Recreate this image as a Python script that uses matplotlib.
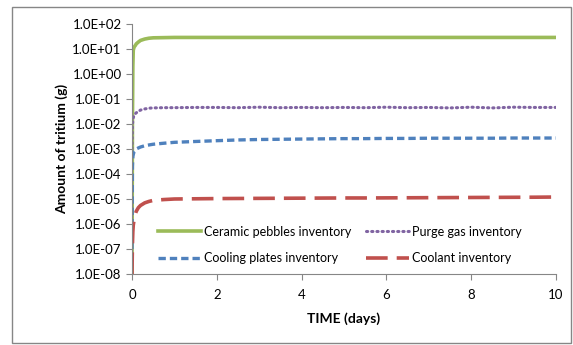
import matplotlib
matplotlib.use("Agg")
import matplotlib.pyplot as plt
from matplotlib.patches import Rectangle
from matplotlib.ticker import FixedLocator, FixedFormatter

# time (days)
time = [0, 0.01, 0.02, 0.03, 0.05, 0.08, 0.1, 0.15, 0.2, 0.3, 0.4, 0.5, 0.75,
        1, 1.5, 2, 2.5, 3, 3.5, 4, 4.5, 5, 5.5, 6, 6.5, 7, 7.5, 8, 8.5, 9, 9.5, 10]

ceramic = [1e-8, 0.01, 2.0, 9.0, 12.0, 14.0, 16.0, 19.0, 22.0, 25.0, 27.0, 28.0, 28.5,
           29, 29, 29, 29, 29, 29, 29, 29, 29, 29, 29, 29, 29, 29, 29, 29, 29, 29, 29]
purge = [1e-3, 0.008, 0.015, 0.018, 0.022, 0.026, 0.028, 0.032, 0.036, 0.040, 0.043, 0.044, 0.045,
         0.045, 0.046, 0.046, 0.045, 0.047, 0.045, 0.046, 0.045, 0.046, 0.045, 0.047, 0.045, 0.046,
         0.044, 0.047, 0.044, 0.047, 0.046, 0.046]
cooling = [1e-7, 2e-4, 5e-4, 6e-4, 8e-4, 9e-4, 1.0e-3, 1.1e-3, 1.2e-3, 1.35e-3, 1.45e-3, 1.55e-3, 1.7e-3,
           1.85e-3, 2.0e-3, 2.15e-3, 2.3e-3, 2.4e-3, 2.45e-3, 2.5e-3, 2.55e-3, 2.6e-3, 2.6e-3, 2.65e-3,
           2.65e-3, 2.7e-3, 2.7e-3, 2.7e-3, 2.7e-3, 2.75e-3, 2.75e-3, 2.75e-3]
coolant = [1e-8, 1.5e-7, 5e-7, 9e-7, 1.5e-6, 2.5e-6, 3.2e-6, 4.5e-6, 5.5e-6, 7e-6, 8e-6, 8.8e-6, 9.5e-6,
           1.0e-5, 1.02e-5, 1.04e-5, 1.05e-5, 1.06e-5, 1.07e-5, 1.08e-5, 1.09e-5, 1.1e-5, 1.1e-5, 1.11e-5,
           1.12e-5, 1.13e-5, 1.14e-5, 1.15e-5, 1.16e-5, 1.17e-5, 1.18e-5, 1.2e-5]

ytick_vals = [1e-8, 1e-7, 1e-6, 1e-5, 1e-4, 1e-3, 1e-2, 1e-1, 1e0, 1e1, 1e2]
ytick_labels = ["1.0E-08", "1.0E-07", "1.0E-06", "1.0E-05", "1.0E-04", "1.0E-03",
                "1.0E-02", "1.0E-01", "1.0E+00", "1.0E+01", "1.0E+02"]

plt.rcParams['font.family'] = ['Lato', 'DejaVu Sans']

fig = plt.figure(figsize=(5.73, 3.45), dpi=100)
fig.patches.append(Rectangle((12 / 573, 1 - 343 / 345), 559 / 573, 336 / 345,
                             transform=fig.transFigure, fill=False,
                             edgecolor='#868686', linewidth=1.0))
ax = fig.add_axes([132 / 573, 1 - 274 / 345, 424 / 573, 250 / 345])

l1, = ax.plot(time, ceramic, color='#9BBB59', lw=2.6, label='Ceramic pebbles inventory')
l2, = ax.plot(time, purge, color='#8064A2', lw=2.2, ls=(0, (0.4, 1.3)),
              dash_capstyle='round', label='Purge gas inventory')
l3, = ax.plot(time, cooling, color='#4F81BD', lw=2.4, ls=(0, (2.2, 1.2)),
              label='Cooling plates inventory')
l4, = ax.plot(time, coolant, color='#C0504D', lw=2.6, ls=(0, (6, 2.5)),
              label='Coolant inventory')

ax.set_yscale('log')
ax.set_ylim(1e-8, 1e2)
ax.set_xlim(0, 10)
ax.yaxis.set_major_locator(FixedLocator(ytick_vals))
ax.yaxis.set_major_formatter(FixedFormatter(ytick_labels))
ax.yaxis.set_minor_locator(FixedLocator([]))
ax.set_xticks([0, 2, 4, 6, 8, 10])

for s in ['top', 'right']:
    ax.spines[s].set_visible(False)
for s in ['left', 'bottom']:
    ax.spines[s].set_color('#868686')
    ax.spines[s].set_linewidth(0.8)
ax.tick_params(axis='both', direction='out', length=4, width=0.8,
               color='#868686', labelsize=9.5, labelcolor='black')
ax.tick_params(axis='x', pad=7)

ax.set_xlabel('TIME (days)', fontsize=10, fontweight='bold', labelpad=8)
ax.set_ylabel('Amount of tritium (g)', fontsize=10, fontweight='bold', labelpad=3)

# row-wise order: ceramic, purge / cooling, coolant
ax.legend([l1, l3, l2, l4], [l.get_label() for l in (l1, l3, l2, l4)],
          ncol=2, loc='lower left', bbox_to_anchor=(0.035, -0.005), frameon=False,
          fontsize=9, handlelength=3.4, columnspacing=1.2, labelspacing=1.15,
          handletextpad=0.25)

fig.savefig('out.png', dpi=100)
